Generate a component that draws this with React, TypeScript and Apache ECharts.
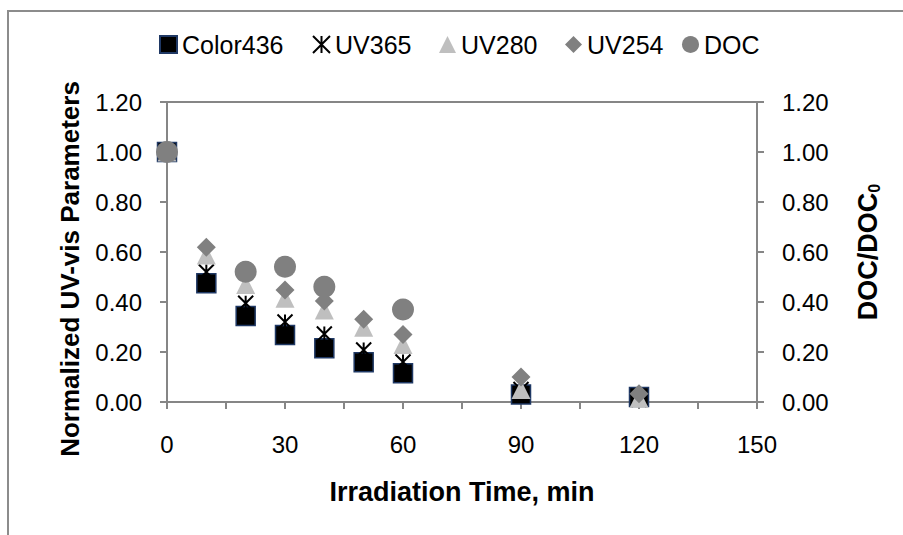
import React, { useEffect, useRef } from "react";
import * as echarts from "echarts";

const times = [0, 10, 20, 30, 40, 50, 60, 90, 120];
const color436 = [1.0, 0.475, 0.344, 0.268, 0.215, 0.159, 0.115, 0.03, 0.02];
const uv365 = [1.0, 0.52, 0.395, 0.32, 0.272, 0.208, 0.16, 0.05, 0.01];
const uv280 = [1.0, 0.588, 0.47, 0.415, 0.368, 0.299, 0.23, 0.05, 0.015];
const uv254 = [1.0, 0.619, 0.52, 0.448, 0.404, 0.331, 0.27, 0.1, 0.033];
const docTimes = [0, 20, 30, 40, 60];
const docValues = [1.0, 0.521, 0.541, 0.461, 0.37];
const yTicks = ["0.00", "0.20", "0.40", "0.60", "0.80", "1.00", "1.20"];
const legendNames = ["Color436", "UV365", "UV280", "UV254", "DOC"];

const FONT = "'Liberation Sans', Arial, sans-serif";
const GREY = "#868686";
const legendLefts = [159, 312, 439, 565, 682];

const pair = (xs: number[], ys: number[]) => xs.map((x, i) => [x, ys[i]]);

export default function App() {
  const ref = useRef<HTMLDivElement>(null);
  useEffect(() => {
    document.body.style.margin = "0";
    const chart = echarts.init(ref.current!, null, { renderer: "svg" });
    const yAxisCommon = {
      type: "value" as const,
      min: 0,
      max: 1.2,
      interval: 0.2,
      axisLine: { show: true, lineStyle: { color: GREY, width: 2 } },
      axisTick: { show: true, inside: false, length: 7, lineStyle: { color: GREY, width: 2 } },
      splitLine: { show: false },
      axisLabel: {
        color: "#000",
        fontFamily: FONT,
        fontSize: 24,
        margin: 25,
        formatter: (v: number) => yTicks[Math.round(v / 0.2)] ?? v.toFixed(2),
      },
      nameLocation: "middle" as const,
    };
    chart.setOption({
      animation: false,
      backgroundColor: "#fff",
      grid: {
        left: 167,
        top: 102,
        width: 590,
        height: 300,
        show: true,
        borderColor: GREY,
        borderWidth: 2,
        backgroundColor: "transparent",
      },
      legend: legendNames.map((n, i) => ({
        left: legendLefts[i],
        top: 32,
        padding: 0,
        itemWidth: 17,
        itemHeight: 17,
        textStyle: { color: "#000", fontFamily: FONT, fontSize: 25 },
        data: [n],
      })),
      xAxis: {
        type: "value",
        min: 0,
        max: 150,
        interval: 15,
        axisLine: { show: true, lineStyle: { color: GREY, width: 2 } },
        axisTick: { show: true, length: 7, lineStyle: { color: GREY, width: 2 } },
        splitLine: { show: false },
        axisLabel: {
          color: "#000",
          fontFamily: FONT,
          fontSize: 24,
          margin: 30,
          formatter: (v: number) => (v % 30 === 0 ? String(v) : ""),
        },
        name: "Irradiation Time, min",
        nameLocation: "middle",
        nameGap: 90,
        nameTextStyle: {
          color: "#000",
          fontFamily: FONT,
          fontSize: 27,
          fontWeight: "bold",
          verticalAlign: "middle",
        },
      },
      yAxis: [
        {
          ...yAxisCommon,
          position: "left",
        },
        {
          ...yAxisCommon,
          position: "right",
          name: "DOC/DOC{sub|0}",
          nameGap: 111,
          nameRotate: 90,
          nameTextStyle: {
            color: "#000",
            fontFamily: FONT,
            fontSize: 27,
            fontWeight: "bold",
            verticalAlign: "middle",
            align: "center",
            rich: {
              sub: {
                fontFamily: FONT,
                fontSize: 16,
                fontWeight: "bold",
                color: "#000",
                verticalAlign: "bottom",
                padding: [13, 0, 0, 0],
              },
            },
          },
        },
      ],
      series: [
        {
          name: "Color436",
          type: "scatter",
          symbol: "rect",
          symbolSize: 19,
          itemStyle: { color: "#000", borderColor: "#1f3864", borderWidth: 1.5, opacity: 1 },
          data: pair(times, color436),
          z: 2,
        },
        {
          name: "UV365",
          type: "scatter",
          symbol: "path://M0,0L10,10M10,0L0,10M5,0L5,10",
          symbolSize: 15,
          itemStyle: { color: "transparent", borderColor: "#000", borderWidth: 2, opacity: 1 },
          data: pair(times, uv365),
          z: 3,
        },
        {
          name: "UV280",
          type: "scatter",
          symbol: "triangle",
          symbolSize: 19,
          itemStyle: { color: "#bfbfbf", opacity: 1 },
          data: pair(times, uv280),
          z: 4,
        },
        {
          name: "UV254",
          type: "scatter",
          symbol: "diamond",
          symbolSize: 19,
          itemStyle: { color: "#808080", opacity: 1 },
          data: pair(times, uv254),
          z: 5,
        },
        {
          name: "DOC",
          type: "scatter",
          yAxisIndex: 1,
          symbol: "circle",
          symbolSize: 22,
          itemStyle: { color: "#808080", opacity: 1 },
          data: pair(docTimes, docValues),
          z: 6,
        },
      ],
      graphic: [
        {
          type: "rect",
          shape: { x: 8, y: 11, width: 1000, height: 1000 },
          style: { fill: "none", stroke: "#8c8c8c", lineWidth: 2 },
          silent: true,
        },
        {
          type: "text",
          x: 70,
          y: 269,
          rotation: Math.PI / 2,
          style: {
            text: "Normalized UV-vis Parameters",
            fill: "#000",
            font: `bold 26px ${FONT}`,
            align: "center",
            verticalAlign: "middle",
          },
          silent: true,
        },
      ],
    });
    return () => chart.dispose();
  }, []);
  return <div ref={ref} style={{ width: 903, height: 535 }} />;
}
